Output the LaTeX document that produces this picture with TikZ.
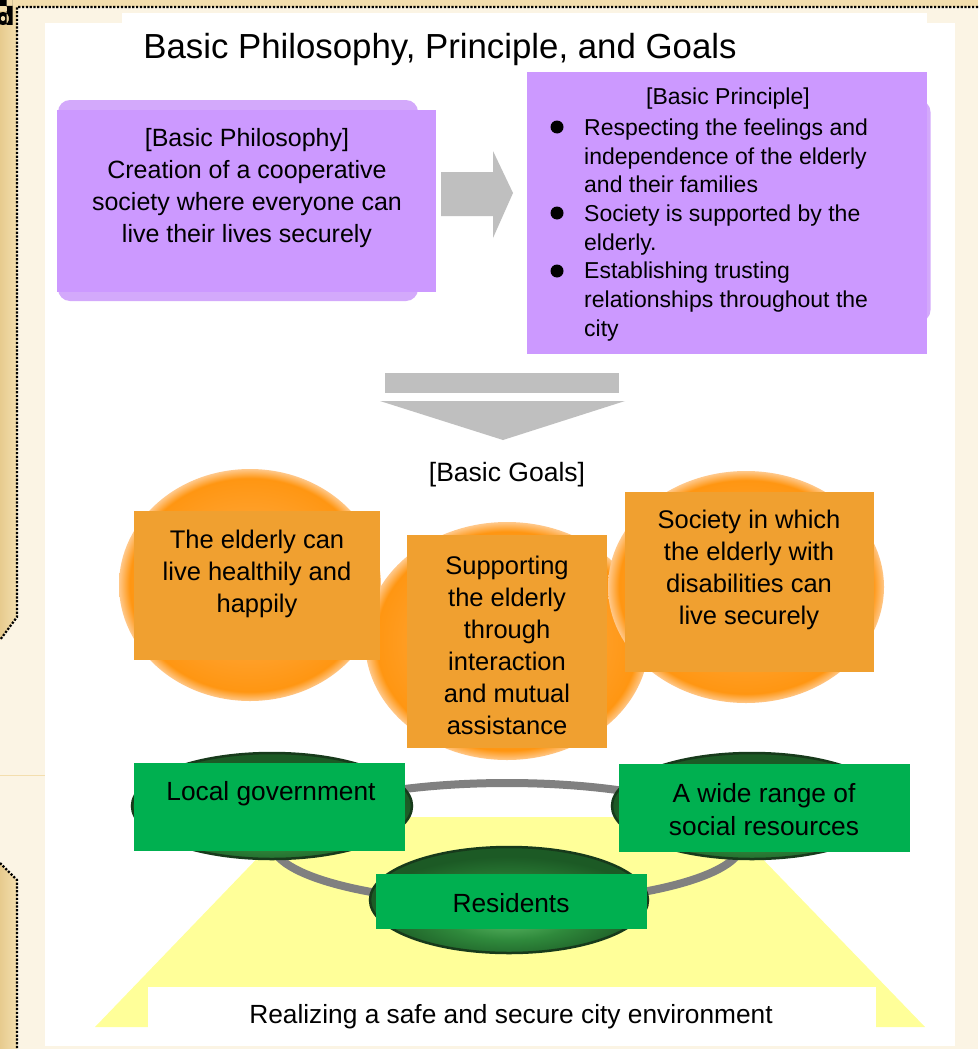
\documentclass[tikz,border=0pt]{standalone}
\usepackage{fontspec}
\setmainfont{Liberation Sans}
\usetikzlibrary{shapes.geometric}

% palette
\definecolor{paper}{HTML}{FBF4E4}
\definecolor{parchment}{HTML}{F3DEAE}
\definecolor{tan}{HTML}{E7CB8E}
\definecolor{lavender}{HTML}{CC99FF}
\definecolor{lavshadow}{HTML}{D3A9FB}
\definecolor{arrowgrey}{HTML}{BFBFBF}
\definecolor{goalbox}{HTML}{F0A030}
\definecolor{ballin}{HTML}{FFB350}
\definecolor{ballmid}{HTML}{FFA02A}
\definecolor{ballout}{HTML}{FF9612}
\definecolor{ballrim}{HTML}{FFC88A}
\definecolor{actorbox}{HTML}{00B050}
\definecolor{lensin}{HTML}{5CB865}
\definecolor{lensmid}{HTML}{2F8A3C}
\definecolor{lensout}{HTML}{1C5A25}
\definecolor{lensedge}{HTML}{173A1B}
\definecolor{ringgrey}{HTML}{808080}
\definecolor{ground}{HTML}{FFFF99}

% shadings for the goal balls and the green lenses
\pgfdeclareradialshading{goalball}{\pgfpoint{0bp}{0bp}}{color(0bp)=(ballin); color(15bp)=(ballmid); color(23bp)=(ballout); color(25bp)=(ballrim); color(50bp)=(ballrim)}
\pgfdeclareradialshading{greenlens}{\pgfpoint{0bp}{-9bp}}{color(0bp)=(lensin); color(12bp)=(lensmid); color(25bp)=(lensout); color(50bp)=(lensout)}

\tikzset{
  titletext/.style={font=\fontsize{34.8}{40}\selectfont, inner sep=0},
  philtext/.style={font=\fontsize{25}{32}\selectfont, align=center, inner sep=0},
  printext/.style={font=\fontsize{23}{28.7}\selectfont, align=left, inner sep=0},
  goaltext/.style={font=\fontsize{25.5}{32}\selectfont, align=center, inner sep=0},
  actortext/.style={font=\fontsize{26.3}{33}\selectfont, align=center, inner sep=0},
  purplebox/.style={fill=lavender},
  purpleshadow/.style={fill=lavshadow, rounded corners=12pt},
  goalfill/.style={fill=goalbox},
  ball/.style={shading=goalball},
  lens/.style={shading=greenlens, draw=lensedge, line width=2.5pt},
  actorfill/.style={fill=actorbox},
  blockarrow/.style={fill=arrowgrey},
  bulletdot/.style={fill=black},
  dottedborder/.style={black, line width=2.2pt, dash pattern=on 2.2pt off 1.6pt},
}

\begin{document}
\begin{tikzpicture}[x=1pt, y=-1pt]
\useasboundingbox (0,0) rectangle (978,1049);

% ---------- page background ----------
\fill[paper] (0,0) rectangle (978,1049);
\fill[parchment] (0,0) rectangle (978,7);
\shade[left color=tan, right color=parchment] (0,7) -- (17,7) -- (17,617) -- (0,640) -- cycle;
\shade[left color=tan, right color=parchment] (0,863) -- (17,880) -- (17,1049) -- (0,1049) -- cycle;
\draw[dottedborder] (978,7) -- (17,7) -- (17,617) -- (0,640);
\draw[dottedborder] (0,863) -- (17,880) -- (17,1049);
\draw[parchment, line width=1pt] (0,775) -- (45,775);

% clipped glyph piece in the corner
\begin{scope}
  \clip (0,0) rectangle (13,27);
  \fill[black, even odd rule] (0,0) rectangle (12.5,6)
    (6.5,0) rectangle (12.5,25)
    (3,18.5) ellipse [x radius=6pt, y radius=6.5pt];
  \fill[parchment] (0,7) rectangle (6.5,11.5);
  \fill[parchment] (3,18.5) ellipse [x radius=2.2pt, y radius=2.6pt];
\end{scope}

% white sheet
\fill[white] (45,23) rectangle (955,1046);
\fill[white] (122,13) rectangle (927,23);

% ---------- title ----------
\node[titletext] (title) at (440,50) {Basic Philosophy, Principle, and Goals};

% ---------- basic philosophy ----------
\fill[purpleshadow] (58,100) rectangle (418,301);
\fill[purplebox] (57,110) rectangle (436,292);
\node[philtext] (philosophy) at (247,188) {[Basic Philosophy]\\Creation of a cooperative\\society where everyone can\\live their lives securely};

% arrow to the principle
\fill[blockarrow] (441,172) -- (493,172) -- (493,151) -- (513,193) -- (493,238) -- (493,216) -- (441,216) -- cycle;

% ---------- basic principle ----------
\fill[purpleshadow] (560,100) rectangle (930.5,322);
\fill[purplebox] (527,72) rectangle (927,354);
\node[philtext, font=\fontsize{23}{28.7}\selectfont] (principlehead) at (728,99) {[Basic Principle]};
\node[printext, anchor=north west] (principle) at (584,118.5) {Respecting the feelings and\\independence of the elderly\\and their families\\Society is supported by the\\elderly.\\Establishing trusting\\relationships throughout the\\city};
\fill[bulletdot] (557,127) circle (6.5pt);
\fill[bulletdot] (557,213) circle (6.5pt);
\fill[bulletdot] (557,271) circle (6.5pt);

% arrow down to the goals
\fill[blockarrow] (385,373) rectangle (619,393);
\fill[blockarrow] (380,401) -- (625,401) -- (503,440) -- cycle;

% ---------- basic goals ----------
\node[philtext, font=\fontsize{26.5}{32}\selectfont] (goalshead) at (507,475) {[Basic Goals]};

\shade[ball] (250,585) ellipse [x radius=131pt, y radius=116pt];
\shade[ball] (507,641) ellipse [x radius=142pt, y radius=119pt];
\shade[ball] (746,587) ellipse [x radius=138pt, y radius=116pt];

\fill[goalfill] (134,511) rectangle (380,660);
\fill[goalfill] (407,535) rectangle (607,748);
\fill[goalfill] (625,492) rectangle (874,672);
\node[goaltext] (goalhealth) at (257,574) {The elderly can\\live healthily and\\happily};
\node[goaltext] (goalmutual) at (507,645) {Supporting\\the elderly\\through\\interaction\\and mutual\\assistance};
\node[goaltext] (goalsecure) at (749,570) {Society in which\\the elderly with\\disabilities can\\live securely};

% ---------- city foundation ----------
\fill[ground] (297,817) -- (722,817) -- (925,1027) -- (95,1027) -- cycle;
\draw[ringgrey, line width=8pt] (507,843) ellipse [x radius=235pt, y radius=60pt];

\shade[lens] (272,806) ellipse [x radius=140pt, y radius=53pt];
\shade[lens] (752,806) ellipse [x radius=140pt, y radius=53pt];
\shade[lens] (509,900) ellipse [x radius=139pt, y radius=53pt];

\fill[actorfill] (134,763) rectangle (405,851);
\fill[actorfill] (619,764) rectangle (910,852);
\fill[actorfill] (376,874) rectangle (647,929);
\node[actortext] (government) at (271,794) {Local government};
\node[actortext] (resources) at (764,810) {A wide range of\\social resources};
\node[actortext] (residents) at (511,903) {Residents};

\fill[white] (148,987) rectangle (876,1046);
\node[actortext] (environment) at (511,1017) {Realizing a safe and secure city environment};
\end{tikzpicture}
\end{document}
